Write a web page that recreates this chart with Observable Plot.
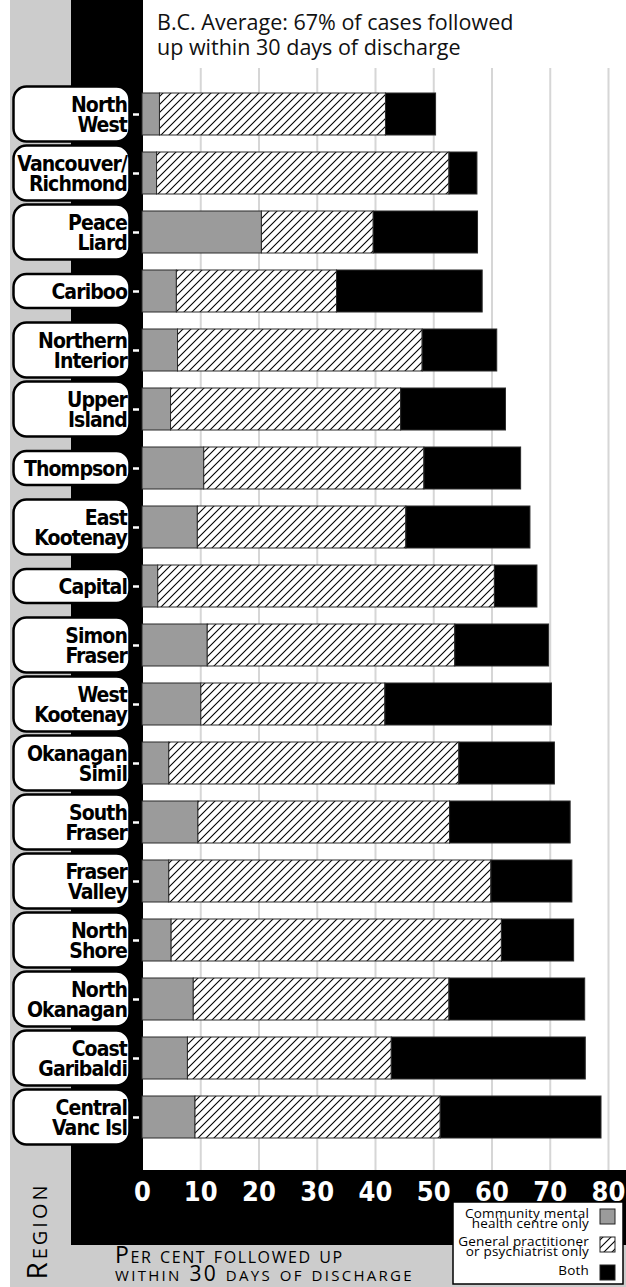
<!DOCTYPE html>
<html><head><meta charset="utf-8">
<script src="https://cdn.jsdelivr.net/npm/d3@7"></script>
<script src="https://cdn.jsdelivr.net/npm/@observablehq/plot@0.6"></script>
<style>
html,body{margin:0;padding:0;background:#fff;}
#chart{width:626px;height:1287px;}
</style></head><body><div id="chart"></div>
<script>
const regions = ["North\nWest","Vancouver/\nRichmond","Peace\nLiard","Cariboo","Northern\nInterior","Upper\nIsland","Thompson","East\nKootenay","Capital","Simon\nFraser","West\nKootenay","Okanagan\nSimil","South\nFraser","Fraser\nValley","North\nShore","North\nOkanagan","Coast\nGaribaldi","Central\nVanc Isl"];
const cmhOnly = [3.0, 2.5, 20.5, 5.9, 6.1, 4.9, 10.6, 9.5, 2.7, 11.2, 10.1, 4.6, 9.6, 4.6, 5.0, 8.8, 7.8, 9.1];
const gpOnly  = [38.8, 50.2, 19.2, 27.5, 42.0, 39.5, 37.8, 35.8, 57.8, 42.5, 31.6, 49.8, 43.2, 55.3, 56.7, 43.9, 35.0, 42.1];
const bothVals = [8.6, 4.8, 17.9, 25.0, 12.8, 18.0, 16.6, 21.3, 7.3, 16.1, 28.6, 16.4, 20.7, 13.9, 12.4, 23.3, 33.3, 27.6];
const xTicks = [0,10,20,30,40,50,60,70,80];
const seriesKeys = ["cmh","gp","both"];
const seriesLabels = [["Community mental","health centre only"],["General practitioner","or psychiatrist only"],["Both"]];
const titleLines = ["B.C. Average: 67% of cases followed","up within 30 days of discharge"];
const xTitleLines = ["Per cent followed up","within 30 days of discharge"];
const yTitle = "Region";

const seriesVals = {cmh: cmhOnly, gp: gpOnly, both: bothVals};
const rows = regions.flatMap((r,i) => seriesKeys.map(k => ({region: r, type: k, value: seriesVals[k][i]})));

const W = 626, H = 1287;
const narrow = "'Liberation Sans Narrow','DejaVu Sans Condensed','Roboto',sans-serif";
const humanist = "'Open Sans',Lato,sans-serif";

const chart = Plot.plot({
  width: W, height: H,
  marginLeft: 142, marginRight: 18, marginTop: 68, marginBottom: 117,
  style: {background: "transparent", fontFamily: narrow},
  x: {domain: [0, 80], axis: null},
  y: {domain: regions, range: [69.3, 1161.4], paddingInner: 0.283, paddingOuter: 0.25, axis: null},
  color: {domain: seriesKeys, range: ["#9b9b9b", "url(#hatch)", "#000"]},
  marks: [
    Plot.gridX(xTicks.filter(d => d > 0), {stroke: "#d6d6d6", strokeOpacity: 1, strokeWidth: 2}),
    Plot.barX(rows, Plot.stackX({x: "value", y: "region", fill: "type", stroke: "#2a2a2a", strokeWidth: 1, order: seriesKeys})),
    Plot.axisX(xTicks, {anchor: "bottom", tickSize: 0, tickPadding: 11, fill: "white", fontSize: 27, fontWeight: "bold", fontFamily: narrow, label: null}),
    Plot.axisY({anchor: "left", tickSize: 6, dx: -3, stroke: "white", strokeWidth: 2.5, tickFormat: () => "", label: null})
  ]
});

const svg = d3.select(chart);
// pattern
const defs = svg.insert("defs", ":first-child");
const pat = defs.append("pattern").attr("id", "hatch").attr("patternUnits", "userSpaceOnUse")
  .attr("width", 8).attr("height", 8);
pat.append("rect").attr("width", 8).attr("height", 8).attr("fill", "white");
pat.append("path").attr("d", "M-2,2 L2,-2 M0,8 L8,0 M6,10 L10,6").attr("stroke", "black").attr("stroke-width", 1.1);

// backgrounds
const bg = svg.insert("g", "defs + *");
bg.append("rect").attr("x", 0).attr("y", 0).attr("width", W).attr("height", H).attr("fill", "white");
bg.append("rect").attr("x", 10).attr("y", 0).attr("width", 61).attr("height", H).attr("fill", "#cccccc");
bg.append("rect").attr("x", 10).attr("y", 1245).attr("width", W - 10).attr("height", H - 1245).attr("fill", "#cccccc");
bg.append("rect").attr("x", 71).attr("y", 0).attr("width", 72).attr("height", 1245).attr("fill", "black");
bg.append("rect").attr("x", 71).attr("y", 1170).attr("width", W - 71).attr("height", 75).attr("fill", "black");

// region label boxes
const y = chart.scale("y");
const lab = svg.append("g");
regions.forEach(r => {
  const c = y.apply(r) + y.bandwidth / 2;
  const lines = r.split("\n");
  const h = lines.length === 2 ? 55 : 34;
  lab.append("rect").attr("x", 13.5).attr("y", c - h / 2).attr("width", 116).attr("height", h)
    .attr("rx", 13).attr("fill", "white").attr("stroke", "black").attr("stroke-width", 2.5);
  const t = lab.append("text").attr("text-anchor", "end").attr("font-family", narrow)
    .attr("font-weight", "bold").attr("font-size", 21).attr("letter-spacing", -0.9).attr("fill", "black");
  if (lines.length === 2) {
    t.append("tspan").attr("x", 127).attr("y", c - 2).text(lines[0]);
    t.append("tspan").attr("x", 127).attr("y", c + 18).text(lines[1]);
  } else {
    t.append("tspan").attr("x", 127).attr("y", c + 8).text(lines[0]);
  }
});

// title
const tt = svg.append("text").attr("text-anchor", "start").attr("font-family", humanist).attr("font-size", 21.5).attr("fill", "#111");
titleLines.forEach((l, i) => tt.append("tspan").attr("x", 157).attr("y", 30 + i * 25).text(l));

// x title
const xtSizes = [23, 21];
const xtSpacing = [1.6, 2.3];
const xtY = [1263, 1281];
xTitleLines.forEach((l, i) => svg.append("text").attr("text-anchor", "start").attr("font-family", humanist)
  .attr("font-size", xtSizes[i]).attr("font-variant", "small-caps").attr("letter-spacing", xtSpacing[i])
  .attr("fill", "black").attr("x", 115).attr("y", xtY[i]).text(l));

// y title
svg.append("text").attr("transform", "translate(47,1231) rotate(-90)").attr("text-anchor", "middle")
  .attr("font-family", humanist).attr("font-size", 28).attr("font-variant", "small-caps")
  .attr("letter-spacing", 3).attr("fill", "black").text(yTitle);

// legend
const lg = svg.append("g");
lg.append("rect").attr("x", 453).attr("y", 1202).attr("width", 170).attr("height", 82)
  .attr("fill", "white").attr("stroke", "black").attr("stroke-width", 1.5);
const swatchFill = ["#9b9b9b", "url(#hatch)", "#000"];
const swY = [1209, 1237, 1265];
const txtY = [[1218, 1228], [1246, 1256], [1275]];
seriesLabels.forEach((lines, i) => {
  lg.append("rect").attr("x", 600).attr("y", swY[i]).attr("width", 15).attr("height", 15)
    .attr("fill", swatchFill[i]).attr("stroke", "#222").attr("stroke-width", 1);
  const t = lg.append("text").attr("text-anchor", "end").attr("font-family", humanist)
    .attr("font-size", 13.5).attr("letter-spacing", 0.2).attr("fill", "black");
  lines.forEach((l, j) => t.append("tspan").attr("x", 589).attr("y", txtY[i][j]).text(l));
});

document.getElementById("chart").appendChild(chart);
</script>
</body></html>
